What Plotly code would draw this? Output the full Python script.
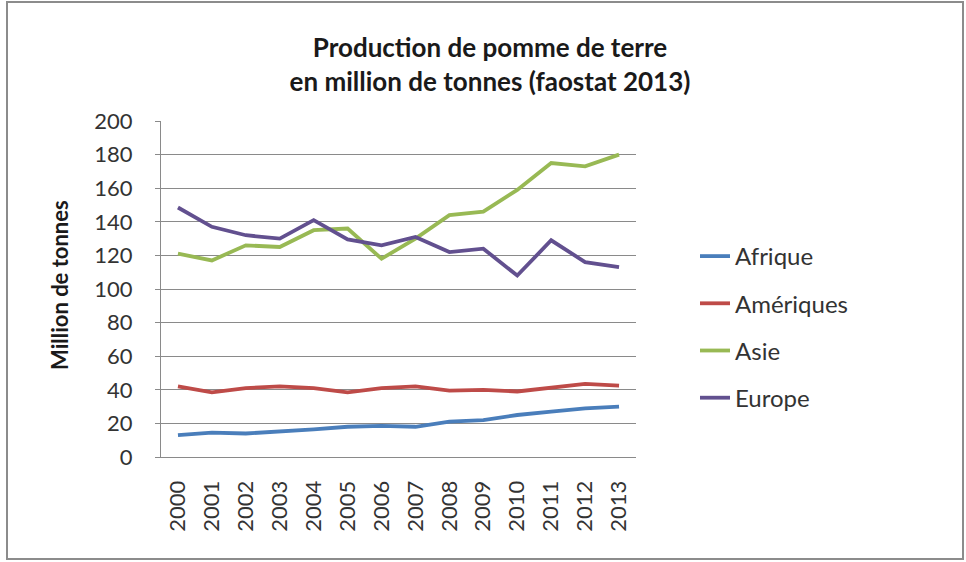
import plotly.graph_objects as go

years = ["2000", "2001", "2002", "2003", "2004", "2005", "2006", "2007",
         "2008", "2009", "2010", "2011", "2012", "2013"]
afrique = [13, 14.5, 14, 15, 16.5, 18, 18.5, 18, 21, 22, 25, 27, 29, 30]
ameriques = [42, 38.5, 41, 42, 41, 38.5, 41, 42, 39.5, 40, 39, 41, 43.5, 42.5]
asie = [121, 117, 126, 125, 135, 136, 118, 130, 144, 146, 159, 175, 173, 180]
europe = [148.5, 137, 132, 130, 141, 129.5, 126, 131, 122, 124, 108, 129, 116, 113]

series = [
    ("Afrique", afrique, "#4A7EBB"),
    ("Amériques", ameriques, "#BE4B48"),
    ("Asie", asie, "#98B954"),
    ("Europe", europe, "#62508F"),
]

FONT = "Lato, 'Open Sans', sans-serif"

fig = go.Figure()
for name, vals, col in series:
    fig.add_trace(go.Scatter(
        x=years, y=vals, name=name, mode="lines",
        line=dict(color=col, width=3.8),
        legendgroup=name,
    ))

W, H = 966, 562
L, R, T, B = 161, 636, 121, 457
pw, ph = R - L, B - T


def px_x(x):
    return (x - L) / pw


def px_y(y):
    return (B - y) / ph


fig.update_layout(
    width=W, height=H,
    margin=dict(l=L, r=W - R, t=T, b=H - B, autoexpand=False),
    paper_bgcolor="white", plot_bgcolor="white",
    font=dict(family=FONT, color="#333333"),
    title=dict(
        text="<b>Production de pomme de terre<br>en million de tonnes (faostat 2013)</b>",
        x=490 / W, xanchor="center", xref="container",
        y=1 - 57 / H, yanchor="middle", yref="container",
        font=dict(size=26, color="#1a1a1a", family=FONT),
    ),
    showlegend=True,
    legend=dict(
        x=px_x(695), xanchor="left", y=px_y(234), yanchor="top",
        font=dict(size=24, color="#333333", family=FONT),
        traceorder="grouped", tracegroupgap=13,
        bgcolor="rgba(0,0,0,0)",
    ),
    xaxis=dict(
        type="category", range=[-0.5, 13.5],
        showgrid=False, showline=True, linecolor="#8a8a8a", linewidth=1,
        tickangle=-90, tickfont=dict(size=22, color="#333333", family=FONT),
        ticks="", ticklabelstandoff=14, zeroline=False,
    ),
    yaxis=dict(
        range=[0, 200], dtick=20, tick0=0,
        showgrid=True, gridcolor="#8a8a8a", gridwidth=1,
        showline=True, linecolor="#8a8a8a", linewidth=1,
        ticks="outside", ticklen=5, tickcolor="#8a8a8a",
        tickfont=dict(size=22, color="#333333", family=FONT),
        ticklabelstandoff=18, zeroline=False,
    ),
    annotations=[dict(
        text="<b>Million de tonnes</b>", textangle=-90,
        xref="paper", yref="paper", x=px_x(59), y=px_y(285),
        xanchor="center", yanchor="middle", showarrow=False,
        font=dict(size=22, color="#1a1a1a", family=FONT),
    )],
    shapes=[dict(
        type="rect", xref="paper", yref="paper",
        x0=px_x(7), x1=px_x(963), y0=px_y(559), y1=px_y(2),
        line=dict(color="#8c8c8c", width=2), fillcolor="rgba(0,0,0,0)",
        layer="below",
    )],
)

fig.write_html(
    "out.html",
    config={"displayModeBar": False},
    post_script="document.body.style.margin='0';document.body.style.overflow='hidden';",
)
